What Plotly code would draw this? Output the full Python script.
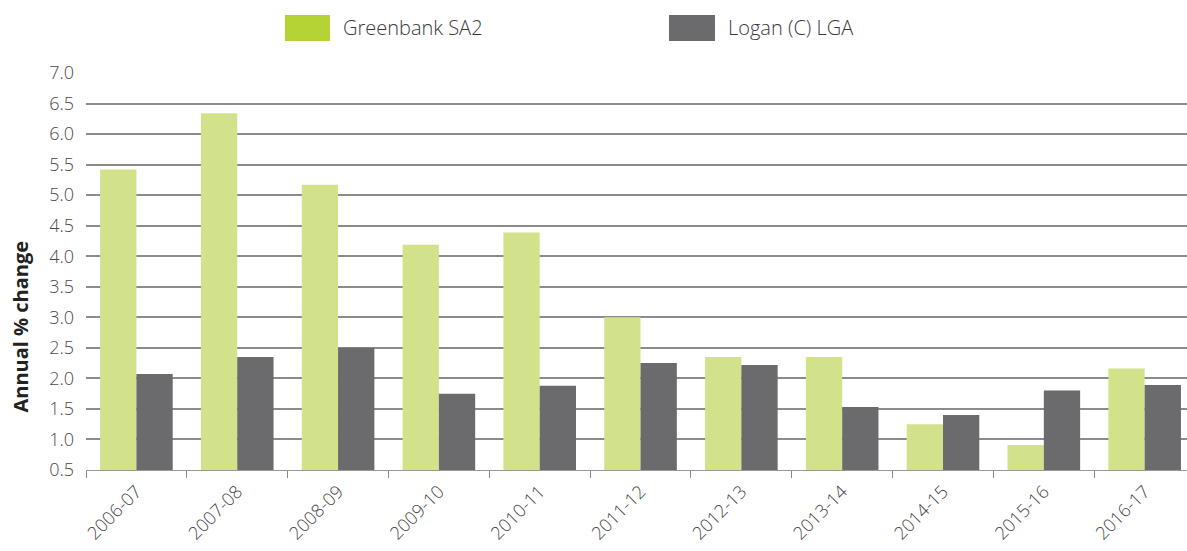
import plotly.graph_objects as go

categories = ["2006-07", "2007-08", "2008-09", "2009-10", "2010-11", "2011-12",
              "2012-13", "2013-14", "2014-15", "2015-16", "2016-17"]
greenbank = [5.42, 6.34, 5.17, 4.19, 4.39, 3.0, 2.35, 2.35, 1.25, 0.91, 2.16]
logan = [2.07, 2.35, 2.50, 1.75, 1.88, 2.25, 2.22, 1.53, 1.40, 1.80, 1.89]
y_ticks = [0.5, 1.0, 1.5, 2.0, 2.5, 3.0, 3.5, 4.0, 4.5, 5.0, 5.5, 6.0, 6.5, 7.0]
series_names = ["Greenbank SA2", "Logan (C) LGA"]
bar_colors = ["#D1E28B", "#6B6B6D"]
legend_colors = ["#B5D334", "#6B6B6D"]

FONT = "Open Sans"
fig = go.Figure()
for name, vals, col in zip(series_names, [greenbank, logan], bar_colors):
    fig.add_trace(go.Bar(x=categories, y=vals, name=name, showlegend=False,
                         marker=dict(color=col, line=dict(width=0))))

# custom legend (large swatches like the original)
legend_x = [(0.1807, 0.2216, 0.2316), (0.5295, 0.5713, 0.5813)]
shapes = []
annotations = []
for (x0, x1, xt), name, col in zip(legend_x, series_names, legend_colors):
    shapes.append(dict(type="rect", xref="paper", yref="paper", x0=x0, x1=x1,
                       y0=1.0806, y1=1.1461, fillcolor=col, line=dict(width=0)))
    annotations.append(dict(text=name, xref="paper", yref="paper", x=xt, y=1.1134,
                            xanchor="left", yanchor="middle", showarrow=False,
                            font=dict(size=20, color="#3a3a3a", family=FONT, weight=300)))

annotations.append(dict(text="<b>Annual % change</b>", textangle=-90,
                        xref="paper", yref="paper", x=-0.0595, y=0.3627,
                        xanchor="center", yanchor="middle", showarrow=False,
                        font=dict(size=20, color="#222222", family=FONT)))

fig.update_layout(
    width=1187, height=551,
    margin=dict(l=86, r=0, t=73, b=81),
    paper_bgcolor="white", plot_bgcolor="white",
    barmode="group", bargap=0.28, bargroupgap=0,
    font=dict(family=FONT, color="#444444"),
    showlegend=False,
    xaxis=dict(type="category", range=[-0.5, 10.42], tickson="boundaries",
               ticks="outside", ticklen=7, tickcolor="#888888", tickwidth=1,
               showline=True, linecolor="#999999", linewidth=1,
               showgrid=False, tickangle=-45, automargin=False,
               ticklabelstandoff=3,
               tickfont=dict(size=18, color="#444444", family=FONT, weight=300)),
    yaxis=dict(range=[0.5, 7.0], tickvals=y_ticks, tickformat=".1f",
               showgrid=True, gridcolor="#8C8C8C", gridwidth=1.5,
               zeroline=False, showline=False, ticks="", automargin=False,
               ticklabelstandoff=11,
               tickfont=dict(size=18, color="#4a4a4a", family=FONT, weight=300)),
    shapes=shapes,
    annotations=annotations,
)

fig.write_html("out.html", config={"displayModeBar": False},
               post_script="document.body.style.margin='0';document.body.style.overflow='hidden';")
